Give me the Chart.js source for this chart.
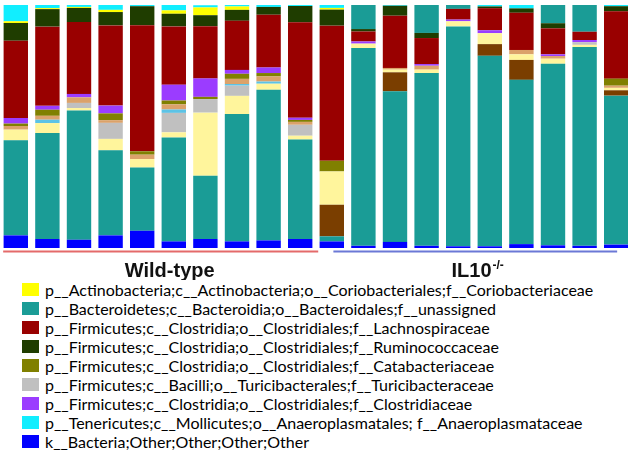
<!DOCTYPE html>
<html>
<head>
<meta charset="utf-8">
<script src="https://cdn.jsdelivr.net/npm/chart.js@4"></script>
<style>
html, body { margin: 0; padding: 0; background: #fff; overflow: hidden; }
#wrap { position: relative; width: 632px; height: 280px; }
#legend { position: absolute; left: 22px; top: 280px; font-family: Lato, "Open Sans", sans-serif; font-size: 16px; color: #000; }
.row { height: 19.06px; display: flex; align-items: center; white-space: nowrap; }
.box { width: 17px; height: 13px; margin-right: 6px; flex: none; }
</style>
</head>
<body>
<div id="wrap"><canvas id="bars" width="632" height="280"></canvas></div>
<div id="legend"></div>
<script>
// 20 samples: 10 wild-type, 10 IL10-/-, relative abundance in %
var samples = ['WT1','WT2','WT3','WT4','WT5','WT6','WT7','WT8','WT9','WT10',
               'KO1','KO2','KO3','KO4','KO5','KO6','KO7','KO8','KO9','KO10'];

var other      = [5.2,3.7,3.4,5.2,7.1,2.7,3.7,2.7,3.1,3.7, 2.7,0.9,2.5,0.9,0.7,0.7,1.6,1.1,0.9,1.4];
var bacteroid  = [39.1,43.6,53.2,35.0,26.0,42.8,26.0,52.4,62.0,40.9, 2.1,81.4,62.0,71.1,90.5,78.4,67.6,74.7,81.8,61.3];
var brownTaxon = [0,0,0,0,0,0,0,0,0,0, 13.0,0,7.8,0,0,4.8,8.2,0,0,2.2];
var paleTaxon  = [4.4,4.1,1.0,4.7,3.5,2.1,26.0,7.5,2.5,1.6, 13.7,1.8,1.1,1.4,2.1,4.5,2.3,2.1,0.9,1.0];
var turici     = [0,0,2.1,6.6,0,8.0,5.6,4.2,0,4.5, 0,0,0,0,0,0,0,0,1.1,0];
var blueTaxon  = [0,1.4,0,0,0,1.4,0,0.7,0.9,0, 0,0,0,0,0,0,0,0,0,0];
var tanTaxon   = [1.5,1.6,2.3,1.1,1.8,2.1,0,2.1,2.1,1.2, 0,0,0.7,1.6,0,0,1.8,1.1,0,0.9];
var catabac    = [1.0,2.5,0,2.8,1.4,1.6,0.9,2.1,1.4,0.8, 4.4,0,0,0,0,0,0,0,0,2.9];
var clostrid   = [2.3,1.6,1.4,3.2,0,6.5,7.6,1.6,2.3,0.9, 0,0.9,0,0.7,0.7,1.2,0,0.7,0.9,0];
var lachno     = [31.8,32.6,29.6,33.0,51.9,24.0,21.5,20.2,21.7,39.3, 55.6,4.1,21.5,10.7,4.4,9.1,15.3,10.7,3.4,27.7];
var rumino     = [7.3,7.2,5.8,5.5,7.8,5.2,4.5,4.5,3.2,6.7, 6.6,1.0,4.1,2.1,0,0.7,1.8,2.1,0,2.1];
var actino     = [0.7,0.4,0.4,0.9,0,1.4,3.2,1.4,0,0, 0.7,0,0,0,0,0,0,0,0,0];
var anaero     = [6.9,1.4,0.9,2.1,0.7,2.3,0.9,0.7,0.9,0.4, 1.4,0,0.4,0,0,0.7,1.4,0,0,0.7];
var topTaxon   = [0,0,0,0,0,0,0,0,0,0, 0,10.0,0,11.7,1.8,0,0,7.8,11.0,0];

var groups = [
    { label: 'Wild-type', sup: '', from: -0.4, to: 9.57, at: 4.87, color: '#e46a6a' },
    { label: 'IL10', sup: '-/-', from: 10.05, to: 19.03, at: 14.6, color: '#6b78d6' }
];

// stacking order bottom -> top; legend = position in the legend (or -1 if not listed)
var datasets = [
    { label: 'k__Bacteria;Other;Other;Other;Other', data: other, backgroundColor: '#0000ff', legend: 8 },
    { label: 'p__Bacteroidetes;c__Bacteroidia;o__Bacteroidales;f__unassigned', data: bacteroid, backgroundColor: '#1a9c96', legend: 1 },
    { label: 'brown', data: brownTaxon, backgroundColor: '#7a3e00', legend: -1 },
    { label: 'pale', data: paleTaxon, backgroundColor: '#fff59c', legend: -1 },
    { label: 'p__Firmicutes;c__Bacilli;o__Turicibacterales;f__Turicibacteraceae', data: turici, backgroundColor: '#c0c0c0', legend: 5 },
    { label: 'lightblue', data: blueTaxon, backgroundColor: '#5cc3e6', legend: -1 },
    { label: 'tan', data: tanTaxon, backgroundColor: '#dba26a', legend: -1 },
    { label: 'p__Firmicutes;c__Clostridia;o__Clostridiales;f__Catabacteriaceae', data: catabac, backgroundColor: '#808000', legend: 4 },
    { label: 'p__Firmicutes;c__Clostridia;o__Clostridiales;f__Clostridiaceae', data: clostrid, backgroundColor: '#9b3cff', legend: 6 },
    { label: 'p__Firmicutes;c__Clostridia;o__Clostridiales;f__Lachnospiraceae', data: lachno, backgroundColor: '#990000', legend: 2 },
    { label: 'p__Firmicutes;c__Clostridia;o__Clostridiales;f__Ruminococcaceae', data: rumino, backgroundColor: '#1f3d00', legend: 3 },
    { label: 'p__Actinobacteria;c__Actinobacteria;o__Coriobacteriales;f__Coriobacteriaceae', data: actino, backgroundColor: '#ffff00', legend: 0 },
    { label: 'p__Tenericutes;c__Mollicutes;o__Anaeroplasmatales; f__Anaeroplasmataceae', data: anaero, backgroundColor: '#11eeff', legend: 7 },
    { label: 'top', data: topTaxon, backgroundColor: '#1a9c96', legend: -1 }
];

var groupLabels = {
    id: 'groupLabels',
    afterDraw: function(chart) {
        var ctx = chart.ctx;
        var x = chart.scales.x;
        var step = x.getPixelForValue(1) - x.getPixelForValue(0);
        var px = function(i) { return x.getPixelForValue(0) + i * step; };
        ctx.save();
        for (var g of groups) {
            ctx.strokeStyle = g.color;
            ctx.lineWidth = 2;
            ctx.beginPath();
            ctx.moveTo(px(g.from), 251.5);
            ctx.lineTo(px(g.to), 251.5);
            ctx.stroke();

            ctx.fillStyle = '#111';
            ctx.font = 'bold 20px "Liberation Sans", Arial, sans-serif';
            var w = ctx.measureText(g.label).width;
            ctx.font = 'bold 12px "Liberation Sans", Arial, sans-serif';
            var ws = g.sup ? ctx.measureText(g.sup).width : 0;
            var left = px(g.at) - (w + ws) / 2;
            ctx.font = 'bold 20px "Liberation Sans", Arial, sans-serif';
            ctx.textBaseline = 'alphabetic';
            ctx.fillText(g.label, left, 277);
            if (g.sup) {
                ctx.font = 'bold 12px "Liberation Sans", Arial, sans-serif';
                ctx.fillText(g.sup, left + w + 1, 269);
            }
        }
        ctx.restore();
    }
};

var chart = new Chart(document.getElementById('bars').getContext('2d'), {
    type: 'bar',
    data: { labels: samples, datasets: datasets },
    options: {
        responsive: false,
        animation: false,
        layout: { padding: { top: 5, bottom: 32, left: 0, right: 0 } },
        datasets: { bar: { categoryPercentage: 1, barPercentage: 0.772, borderWidth: 0 } },
        scales: {
            x: { stacked: true, display: false },
            y: { stacked: true, display: false, min: 0, max: 100 }
        },
        plugins: { legend: { display: false }, tooltip: { enabled: false } }
    },
    plugins: [groupLabels]
});

// html legend built from the datasets
var legendItems = chart.data.datasets.filter(function(d) { return d.legend >= 0; })
    .sort(function(a, b) { return a.legend - b.legend; });
var legendEl = document.getElementById('legend');
for (var d of legendItems) {
    var row = document.createElement('div');
    row.className = 'row';
    var box = document.createElement('span');
    box.className = 'box';
    box.style.background = d.backgroundColor;
    var txt = document.createElement('span');
    txt.textContent = d.label;
    row.appendChild(box);
    row.appendChild(txt);
    legendEl.appendChild(row);
}
</script>
</body>
</html>
